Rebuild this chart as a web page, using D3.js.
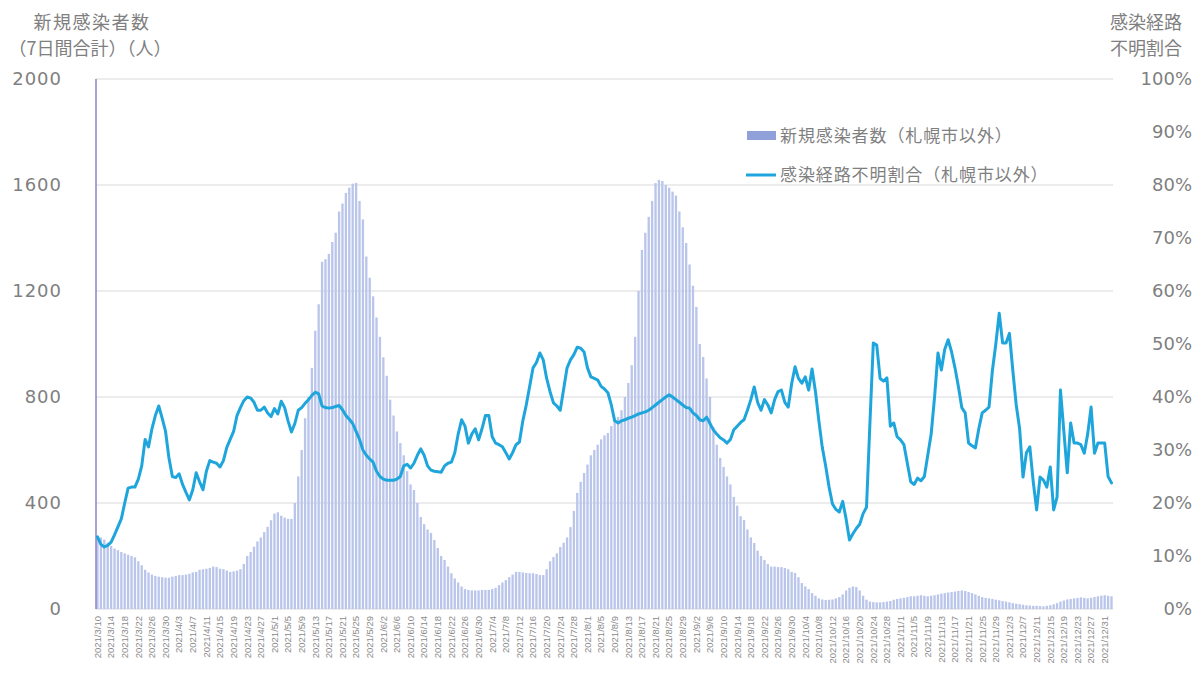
<!DOCTYPE html>
<html><head><meta charset="utf-8">
<script src="https://cdn.jsdelivr.net/npm/d3@7"></script>
<style>
html,body{margin:0;padding:0;background:#fff;}
svg{display:block;}
text{font-family:"DejaVu Sans","Noto Sans CJK JP",sans-serif;}
.cjk{font-family:"Noto Sans CJK JP","Noto Sans",sans-serif;}
</style>
</head><body>
<svg id="chart" width="1203" height="678"></svg>
<script>
// ---- data ----
const startDate = new Date(2021, 2, 10);
const endDate = new Date(2022, 0, 3);
const categories = d3.timeDay.range(startDate, endDate); // 2021/3/10 .. 2022/1/2

const newCases = [
275,270,262,250,238,228,222,215,210,205,
200,195,180,165,148,138,130,125,122,120,
118,118,122,125,128,128,130,133,138,140,
148,150,152,155,160,158,152,150,145,140,
142,145,150,170,200,215,235,255,270,290,
310,335,360,365,352,345,340,340,400,500,
600,720,800,910,1050,1150,1310,1320,1340,1385,
1420,1500,1530,1570,1590,1605,1608,1540,1470,1330,
1250,1180,1100,1027,950,880,790,730,670,626,
580,520,470,449,400,347,320,300,287,260,
230,200,185,160,135,115,100,85,75,72,
70,70,70,72,72,72,75,80,90,100,
109,120,130,140,140,138,136,135,135,132,
128,128,150,180,196,210,234,250,270,309,
370,438,480,513,545,580,600,620,640,655,
664,690,710,725,750,800,853,920,1027,1200,
1355,1420,1480,1540,1607,1619,1615,1600,1590,1575,
1560,1500,1440,1381,1300,1220,1140,1000,951,870,
800,687,620,570,536,500,470,423,390,350,
336,300,270,249,220,200,185,170,160,160,
158,158,155,150,140,136,120,98,85,75,
60,50,40,36,34,35,36,40,45,55,
70,80,85,83,70,50,35,28,26,25,
25,26,28,30,35,38,40,42,45,48,
48,50,52,50,48,50,52,55,58,60,
62,64,66,68,70,68,64,60,55,50,
45,42,40,38,35,33,30,28,25,22,
20,18,16,14,13,12,12,11,10,12,
14,18,22,28,32,36,38,40,42,44,
42,40,42,45,48,50,52,50,48
];

const unknownRatio = [
13.6,12.2,11.7,12.0,12.6,14.0,15.5,17.0,20.0,22.8,
23.0,23.0,24.5,27.0,32.0,30.6,34.0,36.5,38.3,36.0,
33.5,28.5,25.0,24.8,25.5,23.5,22.0,20.6,22.5,25.7,
24.0,22.5,26.0,28.0,27.7,27.5,26.8,28.0,30.5,32.0,
33.5,36.5,38.0,39.3,40.0,39.8,39.0,37.5,37.5,38.1,
37.0,36.3,37.8,36.8,39.2,38.0,35.5,33.4,35.0,37.5,
38.0,38.8,39.5,40.3,40.9,40.6,38.3,38.0,37.9,38.0,
38.2,38.4,37.6,36.5,35.8,35.0,33.5,32.0,30.0,29.0,
28.3,27.7,26.0,25.0,24.5,24.3,24.3,24.3,24.5,25.0,
27.0,27.3,26.6,27.5,29.0,30.2,29.0,27.0,26.2,26.0,
25.9,25.8,27.0,27.5,27.7,29.5,33.0,35.7,34.5,31.3,
33.0,34.0,31.9,34.0,36.5,36.5,32.5,31.3,31.0,30.6,
29.5,28.3,29.5,31.0,31.5,35.5,38.5,42.0,45.5,46.5,
48.3,47.0,43.5,41.0,38.9,38.3,37.5,41.5,45.5,47.0,
48.0,49.4,49.2,48.5,45.5,43.8,43.5,43.2,42.0,41.5,
40.8,38.5,35.5,35.1,35.5,35.7,36.0,36.2,36.5,36.8,
37.0,37.2,37.5,38.0,38.5,39.0,39.5,40.0,40.4,40.0,
39.5,39.0,38.5,38.0,37.9,37.0,36.5,35.7,35.5,36.2,
35.0,33.8,33.0,32.3,31.9,31.3,32.0,33.8,34.5,35.2,
35.7,37.5,39.5,41.9,39.0,37.5,39.5,38.5,37.0,39.5,
41.0,41.3,39.0,38.1,42.5,45.7,43.5,42.6,43.8,41.3,
45.3,41.0,35.5,30.5,27.0,23.0,19.8,18.8,18.3,20.3,
17.0,13.0,14.2,15.2,16.0,18.0,19.2,35.0,50.2,49.8,
43.5,43.0,43.6,34.5,35.1,32.5,31.9,31.0,27.5,24.0,
23.5,24.7,24.2,25.0,29.0,33.0,40.0,48.3,45.1,49.0,
50.8,48.5,45.5,42.0,38.0,37.0,31.3,30.8,30.4,34.0,
37.0,37.5,38.1,45.0,50.0,55.8,50.2,50.2,52.0,45.0,
38.5,34.0,24.9,29.5,30.6,24.0,18.7,24.9,24.3,23.0,
26.8,18.7,21.1,41.3,33.5,25.7,35.1,31.3,31.3,31.0,
29.4,33.0,38.1,29.4,31.3,31.3,31.3,25.0,23.8
];

const leftTicks = [0, 400, 800, 1200, 1600, 2000];
const rightTicks = [0,10,20,30,40,50,60,70,80,90,100];
const leftTitle = ["新規感染者数", "（7日間合計）（人）"];
const rightTitle = ["感染経路", "不明割合"];
const legendLabels = ["新規感染者数（札幌市以外）", "感染経路不明割合（札幌市以外）"];
const tickEvery = 4;

// ---- chart ----
const svg = d3.select("#chart");
const L = 96, R = 1113, T = 79, B = 609;
const fmt = d => `${d.getFullYear()}/${d.getMonth()+1}/${d.getDate()}`;

const x = d3.scaleBand().domain(categories.map((d,i)=>i)).range([L, R]).paddingInner(0.32).paddingOuter(0.1);
const yL = d3.scaleLinear().domain([0, 2000]).range([B, T]);
const yR = d3.scaleLinear().domain([0, 100]).range([B, T]);

// gridlines
svg.append("g").selectAll("line").data(leftTicks).join("line")
  .attr("x1", L).attr("x2", R)
  .attr("y1", d => yL(d)).attr("y2", d => yL(d))
  .attr("stroke", "#d9d9d9").attr("stroke-width", 1);

// bars
svg.append("g").selectAll("rect").data(newCases).join("rect")
  .attr("x", (d,i) => x(i))
  .attr("width", x.bandwidth())
  .attr("y", d => yL(d))
  .attr("height", d => B - yL(d))
  .attr("fill", "#b9c5ea");

// left axis line
svg.append("line").attr("x1", L).attr("x2", L).attr("y1", T).attr("y2", B)
  .attr("stroke", "#8c80c8").attr("stroke-width", 1.5);

// line
const line = d3.line()
  .x((d,i) => x(i) + x.bandwidth()/2)
  .y(d => yR(d))
  .curve(d3.curveLinear);
svg.append("path").datum(unknownRatio)
  .attr("d", line).attr("fill", "none")
  .attr("stroke", "#1ea6dc").attr("stroke-width", 3)
  .attr("stroke-linejoin", "round").attr("stroke-linecap", "round");

// left axis
const axL = svg.append("g").attr("transform", `translate(62,0)`)
  .call(d3.axisLeft(yL).tickValues(leftTicks).tickSize(0).tickPadding(0).tickFormat(d3.format("d")));
axL.select(".domain").remove();
axL.selectAll("text").attr("fill", "#7f7f7f").attr("font-size", 18).attr("letter-spacing", "1px")
  .style("font-family", "'DejaVu Sans',sans-serif");

// right axis
const axR = svg.append("g").attr("transform", `translate(1192,0)`)
  .call(d3.axisLeft(yR).tickValues(rightTicks).tickSize(0).tickPadding(0).tickFormat(d => d + "%"));
axR.select(".domain").remove();
axR.selectAll("text").attr("fill", "#7f7f7f").attr("font-size", 18)
  .style("font-family", "'DejaVu Sans',sans-serif");

// bottom axis
const tickIdx = categories.map((d,i)=>i).filter(i => i % tickEvery === 0);
const axB = svg.append("g").attr("transform", `translate(0,${B})`)
  .call(d3.axisBottom(x).tickValues(tickIdx).tickSize(0).tickFormat(i => fmt(categories[i])));
axB.select(".domain").remove();
axB.selectAll("text")
  .attr("transform", "rotate(-90)")
  .attr("text-anchor", "end")
  .attr("x", -7).attr("y", 0).attr("dy", "0.35em")
  .attr("fill", "#8a8a8a").attr("font-size", 9.5)
  .style("font-family", "'Liberation Sans',sans-serif");

// titles
const tL = svg.append("text").attr("class", "cjk").attr("fill", "#7f7f7f").attr("font-size", 18).attr("text-anchor", "middle");
tL.append("tspan").attr("x", 92).attr("y", 29).attr("letter-spacing", "1.5px").text(leftTitle[0]);
tL.append("tspan").attr("x", 90).attr("y", 55).text(leftTitle[1]);
const tR = svg.append("text").attr("class", "cjk").attr("fill", "#7f7f7f").attr("font-size", 18).attr("text-anchor", "middle");
tR.append("tspan").attr("x", 1146).attr("y", 29).text(rightTitle[0]);
tR.append("tspan").attr("x", 1146).attr("y", 55).text(rightTitle[1]);

// legend
const lg = svg.append("g");
lg.append("rect").attr("x", 747).attr("y", 131).attr("width", 29).attr("height", 9).attr("fill", "#8fa1d8");
lg.append("text").attr("class", "cjk").attr("x", 780).attr("y", 136).attr("dy", "0.35em")
  .attr("font-size", 17).attr("letter-spacing", "0.9px").attr("fill", "#7f7f7f").text(legendLabels[0]);
lg.append("line").attr("x1", 746).attr("x2", 776).attr("y1", 175).attr("y2", 175)
  .attr("stroke", "#1ea6dc").attr("stroke-width", 3);
lg.append("text").attr("class", "cjk").attr("x", 780).attr("y", 175).attr("dy", "0.35em")
  .attr("font-size", 17).attr("letter-spacing", "0.9px").attr("fill", "#7f7f7f").text(legendLabels[1]);
</script>
</body></html>
